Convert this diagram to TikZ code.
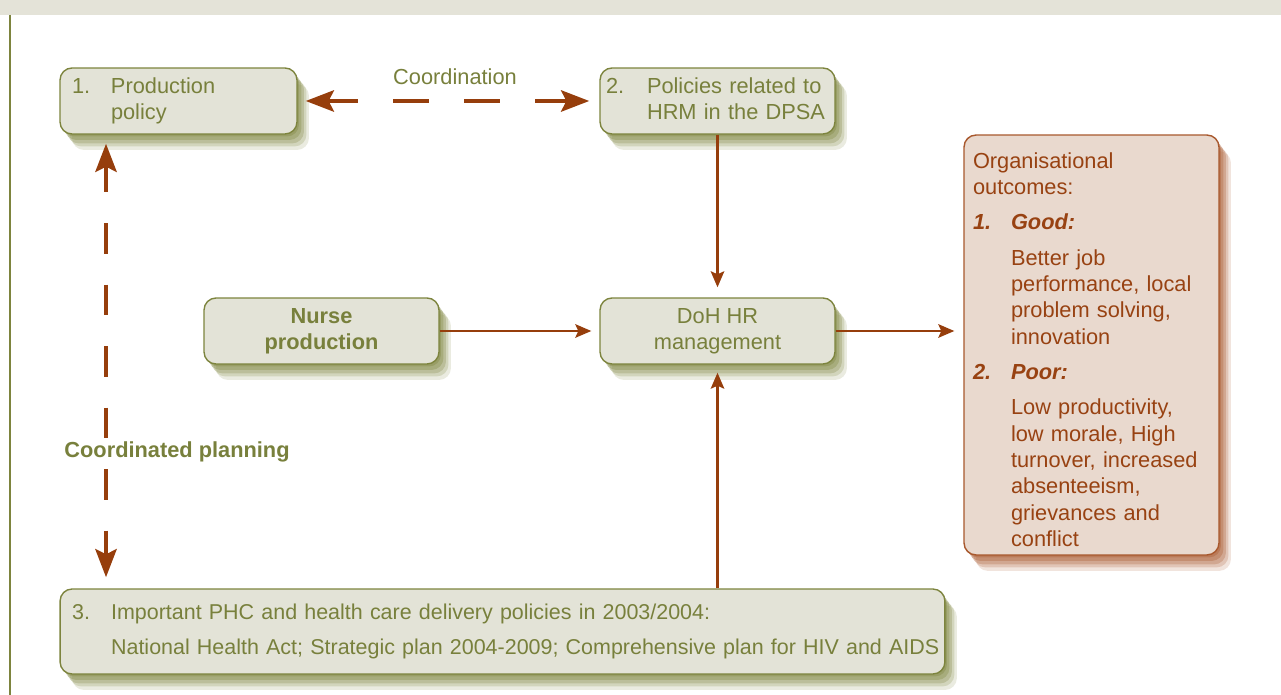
\documentclass[tikz,border=0pt]{standalone}
\usepackage{fontspec}
\setmainfont{Liberation Sans}
\usetikzlibrary{arrows.meta, positioning, shadows}
\usepackage{xcolor}

\definecolor{boxfill}{RGB}{227,227,215}
\definecolor{boxborder}{RGB}{125,132,62}
\definecolor{boxtext}{RGB}{120,128,60}
\definecolor{arrowbrown}{RGB}{150,62,12}
\definecolor{outfill}{RGB}{233,217,206}
\definecolor{outborder}{RGB}{168,88,45}
\definecolor{outtext}{RGB}{152,66,18}
\definecolor{bandfill}{RGB}{228,227,216}

\newcommand{\diagfont}{\fontsize{12.4}{15}\selectfont}

\tikzset{
  softshadow/.style={
    general shadow={shadow xshift=0.24cm, shadow yshift=-0.32cm, fill=#1, opacity=0.16},
    general shadow={shadow xshift=0.19cm, shadow yshift=-0.25cm, fill=#1, opacity=0.22},
    general shadow={shadow xshift=0.14cm, shadow yshift=-0.19cm, fill=#1, opacity=0.28},
    general shadow={shadow xshift=0.09cm, shadow yshift=-0.12cm, fill=#1, opacity=0.32},
    general shadow={shadow xshift=0.04cm, shadow yshift=-0.05cm, fill=#1, opacity=0.36}},
  policybox/.style={draw=boxborder, fill=boxfill, text=boxtext, line width=0.8pt,
    rounded corners=0.24cm, inner ysep=0pt, minimum height=1.32cm, softshadow=boxborder},
  outcomebox/.style={draw=outborder, fill=outfill, text=outtext, line width=0.8pt,
    rounded corners=0.24cm, inner ysep=0pt, softshadow=outborder},
  thinarrow/.style={arrowbrown, line width=1.4pt,
    -{Stealth[length=0.32cm, width=0.27cm, inset=0.06cm]}},
  dasharrow/.style={arrowbrown, line width=2.8pt,
    {Stealth[length=0.56cm, width=0.42cm, inset=0.1cm]}-{Stealth[length=0.56cm, width=0.42cm, inset=0.1cm]}}
}

\begin{document}
\begin{tikzpicture}[x=0.02cm, y=-0.02cm, font=\diagfont]
    \useasboundingbox (0,0) rectangle (1281,695);

    % Frame
    \fill[bandfill] (0,0) rectangle (1281,15);
    \draw[boxborder, line width=1pt] (10,15) -- (10,695);

    % Policy boxes
    \node[policybox, inner xsep=0.24cm, text width=4.26cm, align=left] (prod) at (178.5,101)
      {\begin{tabular}{@{}p{0.78cm}@{}l@{}}1.&Production\\&policy\end{tabular}};
    \node[policybox, inner xsep=0.12cm, text width=4.46cm, align=left] (hrm) at (717.5,101)
      {\begin{tabular}{@{}p{0.82cm}@{}l@{}}2.&Policies related to\\&HRM in the DPSA\end{tabular}};
    \node[policybox, minimum width=4.7cm, align=center, font=\diagfont\bfseries] (nurse) at (321.5,331)
      {Nurse\\production};
    \node[policybox, minimum width=4.7cm, align=center] (doh) at (717.5,331)
      {DoH HR\\management};
    \node[policybox, inner xsep=0.24cm, text width=17.22cm, align=left, minimum height=1.7cm,
      font=\fontsize{12.22}{15}\selectfont] (phc) at (502.5,631.5)
      {\begin{tabular}{@{}p{0.78cm}@{}l@{}}3.&Important PHC and health care delivery policies in 2003/2004:\\[4.9pt]
       &National Health Act; Strategic plan 2004-2009; Comprehensive plan for HIV and AIDS\end{tabular}};

    % Outcomes
    \node[outcomebox, inner xsep=0.18cm, text width=4.74cm, align=left, minimum height=8.4cm] (outcomes) at (1091.5,345)
      {\begin{tabular}{@{}p{0.76cm}@{}l@{}}
       \multicolumn{2}{@{}l@{}}{\rule{0pt}{18.5pt}Organisational}\\
       \multicolumn{2}{@{}l@{}}{outcomes:}\\[5.1pt]
       \textbf{\textit{1.}}&\textbf{\textit{Good:}}\\[5.1pt]
       &Better job\\&performance, local\\&problem solving,\\&innovation\\[5.1pt]
       \textbf{\textit{2.}}&\textbf{\textit{Poor:}}\\[5.1pt]
       &Low productivity,\\&low morale, High\\&turnover, increased\\&absenteeism,\\&grievances and\\&conflict
       \end{tabular}};

    % Labels
    \node[text=boxtext] (coordlabel) at (455,77) {Coordination};
    \node[text=boxtext, font=\diagfont\bfseries] (planlabel) at (177,452) {Coordinated planning};

    % Coordination arrows
    \draw[dasharrow, dash pattern=on 0.72cm off 0.7cm, dash phase=0.1cm,
      shorten <=0.16cm, shorten >=0.2cm] (prod.east) -- (hrm.west);
    \draw[dasharrow, dash pattern=on 0.61cm off 0.62cm, dash phase=0.07cm,
      shorten <=0.18cm, shorten >=0.22cm]
      ([xshift=-1.45cm]prod.south) -- ([xshift=-1.45cm]prod.south |- phc.north);

    % Flows into and out of DoH
    \draw[thinarrow, shorten >=0.2cm] (hrm.south) -- (doh.north);
    \draw[thinarrow, shorten >=0.16cm] (nurse.east) -- (doh.west);
    \draw[thinarrow, shorten >=0.18cm] (doh.east) -- (doh.east -| outcomes.west);
    \draw[thinarrow, shorten >=0.16cm] (phc.north -| doh.south) -- (doh.south);
\end{tikzpicture}
\end{document}
